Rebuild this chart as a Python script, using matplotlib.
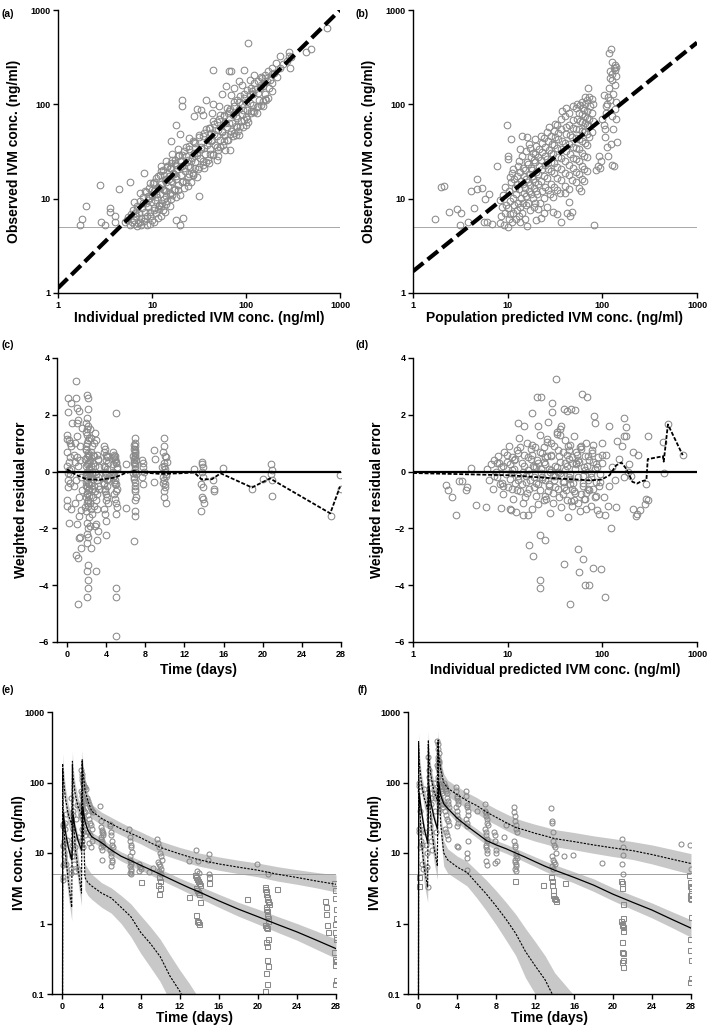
import numpy as np
import matplotlib
matplotlib.use("Agg")
import matplotlib.pyplot as plt
from matplotlib.ticker import FixedLocator, FixedFormatter, NullLocator

plt.rcParams['font.family'] = ['Liberation Sans', 'DejaVu Sans']
plt.rcParams['font.weight'] = 'bold'
plt.rcParams['axes.labelweight'] = 'bold'

nan = np.nan

# ---------------- panel (a): IPRED vs observed ----------------
a_ipred = [1.7, 1.8, 2.0, 2.8, 2.9, 3.2, 3.6, 3.6, 4.0, 4.0, 4.5, 5.8, 8.2, 21, 21, 18, 20, 20, 21.5, 17.8,
           31.8, 45, 66, 70, 96, 105, 122, 148, 165, 720, 488, 433, 294, 290, 290, 230, 211, 188, 180, 119,
           84, 67, 49, 36, 27, 24, 20, 15.6, 14, 13.6, 11.5, 10, 8.8, 7.6, 7.0, 6.1, 6.6, 5.4,
           5.2, 5.6, 5.9, 6.3, 6.4, 6.8, 6.9, 7.1, 7.3, 7.4, 7.7, 7.9, 8.1, 8.2, 8.4, 8.6, 8.7, 8.9, 9.1, 9.3,
           9.4, 9.6, 9.8, 10.1, 10.2, 10.4, 10.6, 10.8, 11.1, 11.3, 11.6, 11.9, 12.1, 12.3, 12.6, 12.9, 13.1, 13.4,
           13.7, 14.1, 14.4, 14.8, 15.1, 15.5, 15.9, 16.3, 16.7, 17.2, 17.6, 18.1, 18.6, 19.1, 19.6, 20.2, 20.8,
           21.4, 22.0, 22.7, 23.4, 24.1, 24.8, 25.6, 26.4, 27.2, 28.0, 28.9, 29.8, 30.7, 31.6, 32.6, 33.6, 34.7,
           35.8, 36.9, 38.1, 39.3, 40.5, 41.8, 43.1, 44.5, 45.9, 47.3, 48.8, 50.3, 51.9, 53.5, 55.2, 56.9, 58.7,
           60.5, 62.4, 64.4, 66.4, 68.5, 70.6, 72.8, 75.1, 77.5, 79.9, 82.4, 85.0, 87.7, 90.4, 93.3, 96.2, 99.2,
           102, 106, 110, 114, 119, 124, 130, 136, 143, 150, 158, 167, 177, 188, 200, 215, 230, 250, 270, 300,
           33, 28, 38, 30, 15.8, 60, 79, 35, 45, 55, 62, 75, 85, 30, 40, 50, 100, 130, 150,
           9.5, 10.5, 12.5, 13, 11, 12, 14, 16, 18, 22, 26, 12.4, 14.2, 16.5, 19, 23, 25, 44, 52, 70, 90, 110,
           65, 90, 115, 140, 160, 42, 24, 20, 18, 16, 14, 12, 10, 9, 8, 7, 6,
           6.5, 6.5, 7.5, 7.5, 8.5, 8.5, 9.5, 9.5, 10.5, 10.5, 11.5, 11.5, 12.5, 12.5, 13.5, 13.5, 14.5, 14.5,
           15.5, 15.5, 16.5, 16.5, 17.5, 17.5, 19, 19, 21, 21, 23, 23, 25, 25, 27, 27, 29, 29, 32, 32, 35, 35,
           38, 38, 41, 41, 45, 45, 49, 49, 53, 53, 58, 58, 63, 63, 68, 68, 74, 74, 80, 80, 87, 87, 95, 95,
           103, 103, 112, 112, 122, 122, 133, 133, 145, 145, 158, 158, 172, 172, 190, 190,
           9, 10, 11, 12, 13, 14, 15, 16, 17, 18, 20, 22, 24, 26, 28, 30, 33, 36, 39, 42, 46, 50, 55, 60, 66,
           72, 78, 85, 92, 100, 110, 120, 135, 150]
a_obs = [5.2, 6.1, 8.3, 13.8, 5.6, 5.2, 8.0, 7.3, 6.6, 5.6, 12.8, 15.0, 18.7, 111, 97, 60, 48, 5.2, 6.3, 5.9,
         10.7, 230, 225, 228, 232, 450, 205, 192, 111, 650, 390, 355, 245, 355, 323, 325, 272, 208, 181, 84,
         47, 33, 26, 21, 18, 13.5, 11, 8.3, 8.7, 7.3, 6.2, 6.0, 5.3, 5.3, 5.1, 5.7, 7.0, 6.0,
         5.6, 6.4, 5.2, 7.6, 5.9, 6.6, 8.4, 5.5, 7.1, 9.4, 6.2, 8.0, 10.3, 5.8, 7.3, 9.0, 11.8, 6.5, 8.1, 10.1,
         13.0, 7.2, 9.2, 11.0, 14.5, 7.9, 12.1, 9.6, 16.5, 10.4, 13.2, 8.3, 18.0, 11.3, 14.4, 9.1, 20.0, 12.3,
         15.6, 10.6, 21.5, 13.6, 17.2, 11.6, 24.0, 14.9, 18.8, 12.4, 26.0, 16.3, 20.5, 13.9, 29.0, 17.8, 22.4,
         15.5, 32.0, 19.6, 24.6, 16.8, 36.0, 21.8, 27.3, 18.5, 40.0, 24.2, 30.2, 20.5, 45.0, 27.0, 33.5, 23.0,
         50.0, 30.0, 37.2, 25.8, 56.0, 33.5, 41.5, 29.0, 62.0, 37.5, 46.0, 33.0, 70.0, 42.0, 51.5, 37.0, 78.0,
         47.0, 57.5, 41.5, 86.0, 52.5, 64.0, 46.5, 95.0, 59.0, 71.0, 52.0, 105, 66.0, 79.0, 58.0, 118, 74.0,
         88.0, 65.0, 130, 84.0, 98.0, 145, 94.0, 112, 160, 108, 128, 175, 148, 170, 215, 195, 240, 265, 290, 320,
         88, 75, 110, 89, 41, 33, 47, 78, 100, 130, 155, 150, 175, 17, 24, 28, 60, 80, 95,
         5.4, 5.6, 6.5, 7.6, 7.0, 8.5, 12, 10, 10.5, 13, 15, 22, 25, 30, 34, 28, 44, 80, 95, 125, 160, 180,
         80, 100, 140, 150, 190, 50, 22, 25, 23, 21, 16, 13, 12.5, 10.8, 9.0, 7.8, 6.8,
         9.2, 5.4, 11.5, 5.7, 12.0, 6.2, 14.5, 6.5, 15.0, 7.6, 17.5, 7.8, 19.5, 8.4, 18.0, 9.8, 22.0, 9.4,
         21.0, 11.2, 25.5, 10.9, 24.0, 12.6, 28.5, 12.4, 29.0, 15.2, 35.0, 15.1, 34.0, 18.3, 40.5, 18.0, 39.0,
         21.0, 47.0, 21.5, 46.0, 25.0, 55.0, 24.5, 56.0, 30.0, 66.0, 29.5, 65.0, 35.5, 78.0, 35.0, 76.0, 41.0,
         92.0, 42.0, 90.0, 49.0, 106, 50.0, 110, 58.0, 124, 58.5, 128, 68.0, 142, 70.0, 150, 80.0, 170, 82.0,
         176, 96.0, 196, 98.0, 205, 115, 228, 118, 245, 140,
         9.6, 10.8, 11.2, 12.9, 12.6, 14.9, 16.2, 15.4, 18.3, 17.6, 21.5, 21.0, 25.8, 25.0, 30.2, 29.0, 35.5,
         34.8, 42.0, 41.0, 48.5, 53.5, 52.0, 64.0, 63.0, 77.0, 75.5, 90.0, 88.0, 106, 104, 128, 132, 158]
a_line_x = [1, 1000]
a_line_y = [1.13, 1000]

# ---------------- panel (b): PRED vs observed ----------------
b_pred = [1.7, 2.0, 2.1, 2.4, 2.9, 3.1, 3.2, 3.8, 4.1, 4.4, 4.7, 4.8, 5.4, 5.8, 6.3, 5.6, 6.1, 6.9, 7.8, 9.8,
          10.2, 10.0, 10.8, 11.0, 13.5, 14.1, 16, 82, 85, 90, 95, 97, 92, 42, 46, 48, 40, 44, 30, 33, 37, 24,
          19.6, 21, 22.5, 20, 16, 13.5,
          105, 108, 110, 112, 115, 118, 120, 122, 124, 125, 126, 128, 130, 130, 132, 133, 135, 136, 138, 140,
          141, 142, 128, 125, 135, 120, 118, 115, 110, 107, 113, 100, 104, 139, 137, 121,
          8.2, 8.5, 8.8, 8.3, 9.1, 9.3, 9.6, 9.0, 9.4, 10.1, 10.3, 10.5, 10.2, 10.7, 10.4, 10.9, 10.6,
          11.2, 11.5, 11.8, 11.4, 11.9, 11.6, 11.3, 12.2, 12.5, 12.8, 12.3, 12.7, 12.4, 12.9,
          13.2, 13.6, 13.9, 13.3, 13.8, 13.5, 13.1, 14.3, 14.6, 14.9, 14.4, 14.8, 14.5, 14.2,
          15.2, 15.5, 15.8, 15.3, 15.7, 15.4, 15.9, 15.6, 16.3, 16.7, 16.4, 16.9, 16.5, 16.8,
          17.3, 17.7, 17.4, 17.9, 17.5, 17.8, 17.2, 18.3, 18.8, 18.5, 18.2, 18.9, 18.6,
          19.2, 19.7, 19.4, 19.9, 19.5, 19.3, 19.8, 19.6, 20.5, 21.0, 20.7, 21.3, 20.9, 21.5,
          22.2, 22.8, 22.5, 23.1, 22.3, 22.9, 23.3, 22.6, 24.1, 24.7, 24.3, 25.0, 24.5, 24.9, 24.2,
          26.0, 26.5, 26.2, 26.8, 26.3, 27.0, 26.6, 26.1, 27.2, 28.2, 28.7, 28.4, 29.0, 28.5, 29.3, 28.8,
          30.2, 30.8, 30.5, 31.2, 30.4, 31.0, 31.5, 30.7, 31.3, 33.0, 33.6, 33.3, 34.0, 33.2, 33.8, 34.2, 33.5,
          36.1, 36.7, 36.3, 37.0, 36.5, 37.2, 36.8, 36.2, 37.4, 40.2, 40.8, 40.4, 41.1, 40.6, 41.3, 40.9, 40.3, 41.5,
          44.1, 44.7, 44.4, 45.1, 44.6, 45.3, 44.9, 44.3, 48.2, 48.8, 48.5, 49.2, 48.4, 49.0, 49.5, 48.7,
          52.1, 52.8, 52.4, 53.2, 52.6, 53.0, 53.5, 52.3, 53.7, 56.2, 56.9, 56.5, 57.3, 56.7, 57.1, 57.6, 56.4, 57.8,
          60.2, 60.9, 60.5, 61.3, 60.7, 61.1, 61.6, 60.4, 61.8, 60.8, 64.1, 64.8, 64.4, 65.2, 64.6, 65.0, 65.5, 64.3,
          65.7, 64.9, 68.2, 68.9, 68.5, 69.2, 68.7, 69.0, 69.5, 68.4, 69.8, 72.3, 72.9, 72.5, 73.2, 72.7,
          78.1, 78.8, 78.4, 79.1, 78.6]
b_obs = [6.1, 13.2, 13.6, 7.3, 7.8, 5.2, 7.0, 5.6, 12.0, 8.0, 16.2, 12.7, 13.1, 9.9, 11.2, 5.7, 5.6, 5.4, 22.3, 60,
         28, 26.5, 43, 18.6, 34, 46, 45, 5.2, 20, 22, 21, 25, 28, 7.0, 6.6, 7.3, 11.6, 9.3, 7.3, 6.9, 5.6, 7.0,
         9.1, 7.7, 6.2, 5.9, 5.1, 5.7,
         60, 45, 80, 100, 28, 350, 110, 38, 388, 180, 75, 210, 55, 130, 240, 22, 90, 160, 250, 70,
         200, 40, 22.5, 280, 230, 190, 150, 120, 95, 55, 35, 70, 125, 105, 260, 225,
         5.5, 6.6, 8.1, 9.6, 5.2, 7.1, 8.6, 11.0, 13.2, 5.0, 6.1, 6.9, 8.0, 9.5, 12.1, 15.2, 17.0,
         5.6, 7.1, 8.6, 10.1, 13.1, 16.2, 20.5, 6.1, 7.6, 9.1, 11.2, 14.2, 17.3, 22.4,
         6.6, 8.1, 10.2, 12.6, 15.3, 19.2, 25.3, 7.1, 9.1, 11.6, 14.2, 17.2, 21.3, 28.3,
         6.1, 8.6, 10.6, 13.1, 16.1, 20.2, 24.2, 32.3, 9.1, 12.1, 15.1, 18.2, 23.3, 38.4,
         7.6, 11.1, 14.1, 17.2, 21.3, 27.4, 34.5, 10.1, 13.1, 16.2, 20.3, 25.4, 30.5,
         8.1, 12.1, 15.2, 19.3, 24.4, 29.5, 36.6, 42.7, 11.1, 14.2, 18.3, 22.4, 27.5, 33.6,
         9.1, 12.2, 15.3, 20.4, 25.5, 31.6, 38.7, 45.8, 10.2, 13.3, 17.4, 22.5, 28.6, 35.7, 43.8,
         8.2, 12.3, 16.4, 20.5, 26.6, 32.7, 40.8, 50.9, 58.0, 11.3, 14.4, 19.5, 24.6, 30.7, 37.8, 45.9,
         10.3, 13.4, 18.5, 23.6, 29.7, 36.8, 44.9, 52.0, 62.1, 12.4, 16.5, 21.6, 27.7, 34.8, 42.9, 50.0, 60.1,
         11.5, 15.6, 20.7, 26.8, 33.9, 41.0, 55.1, 70.2, 85.3, 13.6, 18.7, 24.8, 31.9, 39.0, 48.1, 58.2, 75.3, 90.4,
         12.7, 17.8, 22.9, 30.0, 38.1, 47.2, 60.3, 80.4, 15.8, 20.9, 27.0, 35.1, 45.2, 56.3, 68.4, 95.5,
         14.9, 19.0, 26.1, 34.2, 44.3, 55.4, 70.5, 90.6, 100, 13.1, 18.2, 25.3, 33.4, 42.5, 54.6, 66.7, 80.8, 98.0,
         12.2, 16.3, 22.4, 30.5, 40.6, 52.7, 64.8, 78.9, 92.0, 105, 15.4, 20.5, 28.6, 38.7, 50.8, 62.9, 75.0, 88.1,
         100, 120, 19.6, 27.7, 36.8, 48.9, 60.0, 72.1, 85.2, 110, 150, 45.3, 58.4, 70.5, 95.6, 120,
         50.7, 65.8, 80.9, 100, 115]
b_line_x = [1, 1000]
b_line_y = [1.7, 451]

# ---------------- panel (c): time vs WRES ----------------
c_time = [0.0, 0.05, 0.1, 0.15, 0.2, 0.05, 0.1, 0.0, 0.05, 0.2, 0.1, 0.3, 0.25, 0.35, 0.4, 0.3, 0.45, 0.15, 0.4, 0.5,
          0.35, 0.2, 0.05, 0.45,
          0.7, 0.8, 0.85, 0.9, 0.95, 0.9, 1.0, 1.05, 1.1, 1.0, 1.1, 1.15, 1.2, 1.2, 1.25, 1.3, 1.3, 1.35, 1.4, 1.45,
          1.5, 1.0, 0.95, 1.15, 0.75, 1.4, 1.05, 0.8, 1.25, 1.5,
          2.05, 2.15, 2.15, 2.05, 1.95, 2.1, 2.0, 1.9, 2.2, 2.05, 1.95, 2.15, 2.0, 2.1, 1.9, 2.2, 2.05, 1.95, 2.15, 2.0,
          2.1, 1.9, 2.2, 2.05, 1.95, 2.15, 2.0, 2.1, 1.9, 2.2, 2.05, 2.15, 2.0, 2.1, 2.05, 2.15, 2.05, 2.15, 2.15, 2.05,
          2.35, 2.45, 2.55, 2.65, 2.4, 2.5, 2.6, 2.35, 2.45, 2.55, 2.65, 2.4, 2.5, 2.6, 2.35, 2.5, 2.45, 2.55,
          2.85, 2.95, 3.05, 3.15, 2.9, 3.0, 3.1, 3.2, 2.85, 2.95, 3.05, 2.83, 3.0, 3.17, 3.1, 3.0, 2.9, 3.1,
          3.75, 3.85, 3.95, 4.05, 4.15, 3.8, 3.9, 4.0, 4.1, 3.75, 3.85, 3.95, 4.05, 4.15, 3.8, 3.9, 4.0, 3.96, 4.1,
          3.85, 4.05,
          5.0, 4.7, 4.8, 4.9, 5.0, 5.1, 4.75, 4.85, 4.95, 5.05, 5.15, 4.8, 4.9, 5.0, 5.1, 5.05, 5.0, 5.0, 5.0, 4.95,
          4.85,
          6.0, 6.0,
          6.9, 6.95, 7.0, 6.85, 6.9, 6.95, 7.0, 7.05, 6.85, 6.9, 6.95, 7.0, 7.05, 6.85, 6.9, 6.95, 7.0, 7.05, 6.9,
          6.95, 6.9, 6.8, 7.0, 6.85,
          7.7, 7.8, 7.75, 7.85, 7.7, 7.8, 8.9, 8.9, 9.0,
          9.9, 9.95, 10.0, 10.1, 9.9, 9.95, 10.0, 10.05, 10.1, 9.85, 9.95, 10.0, 10.05, 9.9, 9.95, 10.1,
          13.0, 13.75, 13.8, 13.9, 13.75, 13.85, 13.7, 13.9, 13.75, 13.85, 14.05, 13.7,
          14.9, 15.0, 15.05, 15.9, 18.9, 20.0, 20.85, 20.9, 20.85, 20.95, 21.0, 27.0, 27.9, 28.0,
          1.85, 1.9, 1.95, 2.0, 2.05, 2.1, 2.15, 2.2, 2.25, 2.3, 1.85, 1.9, 1.95, 2.0, 2.05, 2.1, 2.15, 2.2,
          2.25, 2.3, 2.7, 2.75, 2.8, 2.7, 2.75, 2.8, 3.2, 3.25, 3.2, 3.25, 3.8, 3.9, 4.0, 4.1, 3.8, 3.9, 4.0,
          4.1, 4.7, 4.8, 4.9, 5.0, 5.1, 4.75, 4.85, 4.95, 5.05, 6.75, 6.8, 6.85, 6.9, 6.95, 7.0, 6.75, 6.8,
          9.75, 9.8, 9.85, 10.15, 10.2]
c_wres = [1.3, 0.7, 2.1, 2.6, 1.1, 0.2, -0.3, -1.0, -1.2, -1.8, -0.55, 0.5, 0.35, 1.0, 2.4, -0.1, 0.9, -0.05, -1.3, 1.7,
          -0.4, 0.05, 1.15, 0.1,
          0.6, -1.1, 1.0, -2.95, 3.2, 2.6, 1.7, 2.25, 1.8, -1.85, -4.65, -3.05, 2.15, -2.35, -0.9, -2.3, 0.9, 0.4,
          -1.35, -2.7, 1.55, 0.5, -0.3, 0.2, -0.5, -0.2, 1.25, 0.35, -1.55, -0.65,
          2.7, 2.6, 2.2, 1.9, 1.7, 1.6, 1.5, 1.4, 1.2, 1.0, 0.8, 0.6, 0.5, 0.3, 0.2, 0.1, 0.0, -0.1, -0.2, -0.3,
          -0.4, -0.5, -0.6, -0.8, -0.9, -1.0, -1.1, -1.2, -1.4, -1.6, -1.8, -2.0, -2.2, -2.3, -2.5, -3.3, -3.5,
          -3.8, -4.1, -4.4,
          1.5, 1.2, 0.9, 0.6, 0.4, 0.2, 0.0, -0.2, -0.4, -0.6, -0.9, -1.1, -1.3, -1.5, -1.9, -2.7, 0.7, -0.1,
          1.35, 1.1, 0.6, 0.4, 0.2, -0.1, -0.3, -0.5, -0.7, -1.0, -1.3, -1.9, -1.85, -2.1, -2.4, -3.5, 0.0, -0.8,
          0.9, 0.8, 0.6, 0.5, 0.3, 0.2, 0.0, -0.1, -0.3, -0.4, -0.6, -0.8, -0.9, -1.1, -1.3, -1.5, -1.75, -2.25, 0.1,
          -0.2, -0.5,
          2.05, 0.7, 0.6, 0.45, 0.3, 0.15, 0.0, -0.15, -0.3, -0.45, -0.6, -0.8, -0.95, -1.1, -1.25, -1.5, -4.1,
          -4.4, -5.8, 0.55, -0.05,
          0.28, -1.27,
          1.2, 1.0, 0.9, 0.8, 0.7, 0.6, 0.5, 0.4, 0.3, 0.2, 0.1, 0.0, -0.1, -0.2, -0.35, -0.5, -0.7, -0.9, -1.0,
          -1.4, -1.55, -2.45, 0.65, 0.35,
          0.4, 0.3, 0.15, 0.0, -0.2, -0.45, 0.75, -0.36, 0.45,
          1.2, 0.9, 0.55, 0.5, 0.3, 0.2, 0.1, 0.0, -0.1, -0.2, -0.3, -0.45, -0.55, -0.7, -0.9, -1.1,
          0.08, 0.35, 0.25, 0.15, 0.0, -0.2, -0.45, -0.55, -0.9, -0.95, -1.1, -1.4,
          -0.3, -0.6, -0.7, 0.12, -0.6, -0.25, 0.28, 0.05, -0.1, -0.3, -0.85, -1.55, -0.12, -0.62,
          0.45, -0.35, 0.75, -0.75, 0.25, -0.65, 1.1, -0.05, 0.55, -0.45, -1.25, 0.9, -0.15, 1.3, -0.55, 0.65,
          -1.05, 0.35, -0.85, 0.05, 0.3, -0.5, 1.0, -0.25, 0.55, -1.2, 0.45, -0.6, -0.2, 0.15, 0.7, -0.7, 0.4,
          -0.25, -0.45, 0.15, -1.0, 0.55, 0.25, -0.35, 0.4, -0.7, 0.1, -0.2, 0.5, -0.45, 0.35, 0.55, -0.25,
          0.95, -0.6, 0.25, 0.75, -0.05, 0.45, 0.15, -0.4, 0.7, -0.15, 0.35]
c_trend_t = [0, 0.96, 2.0, 3.35, 4.9, 5.9, 6.8, 8.1, 9.5, 11.5, 13.0, 13.75, 14.8, 15.7, 18.9, 20.75, 26.9, 27.9]
c_trend_w = [0.08, -0.12, -0.27, -0.29, -0.21, -0.06, 0.02, -0.04, -0.08, -0.06, -0.03, -0.27, -0.27, -0.06,
             -0.56, -0.24, -1.47, -0.53]

# ---------------- panel (d): IPRED vs WRES ----------------
d_ipred = [32.7, 20.4, 22.4, 29.6, 29.6, 61.6, 69.4, 39.4, 42.7, 47, 51, 18, 12.8, 26.7, 15, 20.8, 36, 33, 37,
           81.3, 83, 119, 168, 179, 302, 179, 143, 437, 445, 493, 706, 286, 281, 210, 228, 124, 108, 107, 45.9,
           21.8, 21.8, 65, 72, 39.4, 18.5, 16.8, 56.4, 80, 97.8, 55.8, 62.6, 21.8, 25, 2.87, 2.25, 2.35, 2.58,
           3.06, 3.32, 3.66, 3.72, 4.1, 4.67, 5.86, 8.6, 10.5, 10.9, 12.3, 14.5, 16.4,
           6.0, 6.3, 6.6, 7.0, 7.2, 7.5, 7.8, 8.0, 8.3, 8.6, 8.9, 9.2, 9.5, 9.8, 10.0, 10.3, 10.6, 11.0, 11.3,
           11.6, 12.0, 12.4, 12.8, 13.2, 13.6, 14.0, 14.5, 15.0, 15.5, 16.0, 16.5, 17.0, 17.5, 18.0, 18.5, 19.0,
           19.5, 20.0, 20.5, 21.0, 22.0, 22.5, 23.0, 24.0, 24.5, 25.0, 26.0, 26.5, 27.0, 28.0, 29.0, 30.0, 31.0,
           32.0, 33.0, 34.0, 35.0, 36.0, 37.0, 38.0, 39.0, 40.0, 41.0, 42.0, 43.0, 44.0, 45.0, 46.0, 47.0, 48.0,
           49.0, 50.0, 52.0, 54.0, 56.0, 58.0, 60.0, 62.0, 64.0, 66.0, 68.0, 70.0, 72.0, 75.0, 78.0, 80.0, 83.0,
           86.0, 90.0, 94.0, 98.0, 105, 110, 118, 125, 135, 150, 170, 190,
           9, 11, 13, 15, 17, 19, 21, 23, 25, 27, 29, 31, 33, 36, 40, 44, 48, 52, 57, 63, 69, 76, 85, 95,
           12, 14, 18, 22, 26, 30, 34, 38, 42, 46, 50, 55, 60, 65, 72, 80, 88, 7.7, 8.8, 10.5, 16, 24, 37, 53,
           67, 92, 100, 115, 140, 160, 200, 230, 240, 250, 290, 300, 185, 210, 170,
           7.2, 8.1, 9.0, 9.9, 10.8, 11.7, 12.6, 13.5, 14.4, 15.3, 16.2, 17.1, 18.0, 19.0, 20.0, 21.0, 22.0,
           23.0, 24.0, 25.0, 26.0, 27.0, 28.0, 29.0, 30.0, 32.0, 34.0, 36.0, 38.0, 40.0, 42.0, 44.0, 46.0, 48.0,
           50.0, 53.0, 56.0, 59.0, 62.0, 65.0, 68.0, 71.0, 75.0, 79.0, 83.0, 88.0, 93.0, 99.0, 11.2, 13.0, 15.8,
           17.8, 19.8, 22.6, 25.5, 28.5, 31.5, 35.0, 39.0, 43.0, 47.5, 52.5, 58.0, 64.0, 70.0, 77.0, 85.0]
d_wres = [3.25, 2.61, 2.61, 2.4, 2.1, 2.72, 2.61, 2.22, 2.14, 2.19, 2.16, 2.07, 1.72, 1.75, 1.6, 1.61, 1.49, 1.34,
          1.61, 1.95, 1.7, 1.6, 1.89, 1.58, 1.26, 1.26, 1.07, 1.05, -0.04, 1.66, 0.58, -0.98, -1.15, -1.33, -1.56,
          -2.0, -1.52, -4.42, -4.66, -3.8, -4.1, -4.01, -3.98, -3.27, -2.98, -2.58, -3.52, -3.4, -3.42, -2.72,
          -3.07, -2.22, -2.42, -1.52, -0.48, -0.64, -0.89, -0.33, -0.33, -0.66, -0.54, 0.13, -1.16, -1.26, -1.28,
          -1.33, -1.36, -1.42, -1.52, -1.52,
          0.1, -0.3, 0.25, -0.6, 0.4, 0.0, -0.2, 0.55, -0.45, 0.15, -0.8, 0.7, -0.1, 0.35, -0.55, 0.9, -0.25, 0.5,
          -0.95, 0.1, -0.4, 0.75, -0.15, 1.2, -0.7, 0.3, -1.1, 0.6, -0.35, 1.0, 0.05, -0.6, 0.45, -1.3, 0.2, -0.2,
          0.85, -0.85, 0.4, -0.45, 1.3, -0.05, 0.65, -1.0, 0.25, -0.3, 1.05, -0.7, 0.1, -1.45, 0.55, -0.15, 0.9,
          -0.55, 1.4, 0.0, -0.9, 0.35, -1.25, 0.7, -0.35, 1.1, -0.65, 0.2, -1.6, 0.45, -0.1, 0.95, -1.05, 0.3,
          -0.4, 1.25, -0.75, 0.6, -0.2, -1.4, 0.8, -0.5, 0.15, -0.95, 1.0, -0.3, 0.4, -1.2, 0.65, -0.6, 0.1,
          -0.85, 0.5, -0.35, 0.3, -0.9, 0.6, -0.5, 0.15, -0.3, 0.45, -0.2, 0.25,
          0.2, 0.05, -0.3, 0.2, -0.1, 0.15, 0.3, -0.25, 0.5, -0.5, 0.05, -0.3, 0.15, -0.05, 0.3, -0.2, -0.6, 0.1,
          0.35, -0.15, 0.2, -0.05, 0.25, -0.1,
          0.45, -0.45, 0.6, -0.65, 0.55, -0.75, 0.75, -0.8, 0.6, -0.45, -1.0, 0.4, -0.8, 0.55, -0.65, 0.95,
          -1.35, 0.3, -0.4, 0.25, -0.75, 0.85, -0.15, 0.7, -1.3, -1.5, 1.0, -1.2, -1.25, 0.9, -0.15, -1.5, 0.6,
          -1.35, -0.45, -1.0, 0.0, 0.7, 1.25,
          -0.15, 0.3, -0.5, 0.6, -0.05, 0.4, -0.65, 0.85, 0.0, -0.9, 0.5, -0.3, 0.95, -0.55, 0.15, -1.15, 0.7,
          -0.2, 0.35, -0.85, 1.15, -0.45, 0.0, 0.6, -1.1, 0.2, -0.6, 1.3, -0.35, 0.05, -1.0, 0.75, -0.25, 0.5,
          -0.7, 0.3, -1.1, 0.9, -0.4, 0.05, -0.75, 0.55, -0.2, 0.35, -0.9, 0.15, -0.5, 0.6, -0.6, 0.65, -0.15,
          0.8, -0.4, 0.1, -0.95, 1.0, -0.15, 0.55, -0.55, 0.9, -1.2, 0.25, 0.85, -0.95, -0.6, 0.75, -0.35]
d_trend_x = [1, 10.5, 25.6, 49, 73, 98, 119, 140, 159, 179, 208, 233, 258, 292, 302, 437, 445, 493, 706]
d_trend_w = [-0.05, -0.13, -0.22, -0.27, -0.31, -0.28, -0.13, 0.22, 0.32, 0.1, -0.36, -0.42, -0.34, -0.3,
             0.44, 0.54, 0.35, 1.66, 0.58]

# ---------------- panel (e): VPC ----------------
vpc_t = [0, 0.02, 0.08, 0.3, 0.6, 0.95, 1.02, 1.08, 1.3, 1.6, 1.95, 2.02, 2.08, 2.3, 2.6, 3, 4, 5, 6, 7, 8, 9,
         10, 11, 12, 13, 14, 16, 18, 20, 22, 24, 26, 28]
e_p95 = [0.001, 185, 120, 60, 35, 25, 200, 120, 70, 45, 35, 210, 150, 80, 55, 39, 31, 26, 22, 19, 16.5, 14, 12,
         10.8, 9.7, 8.8, 8.0, 7.0, 6.3, 5.7, 5.0, 4.5, 4.0, 3.6]
e_p95_hi = [0.001, 260, 170, 85, 48, 34, 280, 170, 95, 60, 46, 290, 200, 105, 70, 49, 38, 32, 27, 23, 20, 17.2,
            14.8, 13.3, 12, 11, 10, 8.8, 7.9, 7.2, 6.4, 5.8, 5.3, 4.9]
e_p95_lo = [0.001, 130, 85, 42, 25, 18, 145, 85, 50, 33, 25, 150, 110, 60, 42, 31, 25, 21, 18, 15.5, 13.5,
            11.4, 9.8, 8.8, 7.9, 7.1, 6.5, 5.7, 5.1, 4.6, 4.0, 3.6, 3.2, 2.8]
e_med = [0.001, 15, 37, 20, 12, 8, 12, 35, 22, 15, 11, 15, 45, 28, 21, 17, 14, 11, 9, 7.8, 6.7, 5.8, 5.0, 4.3,
         3.7, 3.2, 2.8, 2.1, 1.6, 1.25, 0.97, 0.76, 0.58, 0.44]
e_med_hi = [0.001, 18, 43, 23.5, 14, 9.4, 14.5, 41, 26, 17.5, 13, 18, 52, 32.5, 24.5, 19.7, 16.2, 12.7, 10.4,
            9.0, 7.8, 6.8, 5.9, 5.1, 4.4, 3.85, 3.4, 2.6, 2.0, 1.6, 1.26, 1.0, 0.78, 0.6]
e_med_lo = [0.001, 12, 31, 17, 10, 6.7, 10, 29, 18.5, 12.5, 9.2, 12.5, 38, 24, 18, 14.5, 12, 9.4, 7.7, 6.6,
            5.7, 4.9, 4.2, 3.6, 3.1, 2.65, 2.3, 1.7, 1.27, 0.98, 0.75, 0.58, 0.43, 0.32]
e_p5 = [0.001, 150, 35, 10, 4, 1.7, 180, 40, 12, 6, 2.7, 200, 45, 4.5, 3.8, 3.4, 2.7, 2.3, 1.7, 1.25, 0.75,
        0.52, 0.34, 0.18, 0.11, 0.06, nan, nan, nan, nan, nan, nan, nan, nan]
e_p5_hi = [0.001, 220, 55, 16, 6.5, 2.6, 260, 60, 18, 9, 4.2, 280, 65, 7, 6, 5.0, 3.8, 3.2, 2.5, 1.9, 1.3, 0.9,
           0.6, 0.36, 0.22, 0.14, 0.085, 0.03, nan, nan, nan, nan, nan, nan]
e_p5_lo = [0.001, 100, 22, 6, 2.4, 1.1, 120, 26, 8, 3.8, 1.8, 130, 30, 3.0, 2.5, 2.2, 1.7, 1.4, 1.0, 0.65,
           0.38, 0.24, 0.15, 0.08, 0.05, 0.03, 0.02, 0.01, nan, nan, nan, nan, nan, nan]

e_circ_t = [0.05, 0.08, 0.1, 0.15, 0.05, 0.1, 0.2, 0.25, 0.1, 0.3, 0.4, 0.15, 0.35, 0.5, 0.02, 0.2,
            0.85, 0.9, 0.95, 1.0, 0.95, 0.9, 1.05, 1.1, 1.05, 1.1, 1.15, 1.2, 1.3, 1.5, 1.55, 1.6, 1.4, 1.25,
            1.85, 1.95, 2.0, 2.05, 2.1, 2.15, 2.2, 2.3, 2.4, 1.9, 2.0, 2.05, 2.1, 2.15, 2.25, 2.35, 1.95, 2.0,
            2.05, 2.1, 2.2, 2.3, 1.9, 2.0, 2.1, 2.2, 2.4, 2.05, 2.15, 2.3, 2.0, 2.1,
            2.55, 2.6, 2.7, 2.8, 2.9, 3.0, 3.1, 2.65, 2.75, 2.85, 2.95, 3.05, 2.6, 2.8, 3.0, 2.7, 2.9,
            3.85, 3.9, 3.95, 4.0, 4.05, 4.1, 4.15, 3.9, 3.95, 4.0, 4.05, 4.1, 3.95, 4.0, 4.05,
            4.85, 4.9, 4.95, 5.0, 5.05, 5.1, 5.15, 4.9, 4.95, 5.0, 5.05, 5.1, 5.0,
            6.85, 6.9, 6.95, 7.0, 7.05, 7.1, 6.9, 6.95, 7.0, 7.05, 6.9, 7.0, 7.05, 6.95, 7.0,
            7.8, 7.9, 8.0, 7.85, 8.9, 9.3,
            9.7, 9.8, 9.9, 10.0, 10.1, 10.2, 9.8, 9.9, 10.0, 10.1, 9.9, 10.0, 10.05,
            13.0, 13.7, 13.9, 13.8, 14.0, 15.0, 14.9, 15.0, 19.9, 21.0]
e_circ_c = [4.2, 4.6, 6.8, 7.3, 12.5, 13, 15, 22, 24, 27, 36, 9, 7, 15.5, 26, 10.5,
            5.2, 6, 9, 10.5, 13, 60, 22, 35, 40, 16, 9, 7, 5.5, 48, 17, 6, 30, 12,
            150, 130, 120, 110, 100, 95, 90, 85, 80, 75, 70, 65, 60, 57, 55, 52, 50, 48,
            45, 42, 40, 38, 35, 33, 30, 28, 25, 22, 20, 18, 15, 12,
            60, 55, 50, 45, 42, 40, 38, 35, 30, 27, 25, 22, 20, 18, 15, 14, 12,
            47, 28, 23, 21, 20, 19, 18, 17, 16, 15, 14, 13, 12, 11, 8,
            26, 24, 20, 18, 15, 13, 12, 11, 10, 9, 8, 7.5, 6.5,
            22, 17, 15, 13, 12, 10.5, 9, 8, 7.5, 7, 6.5, 6, 5.5, 5.2, 5.0,
            7, 6.3, 6, 5.5, 5.3, 6.2,
            16, 14, 12, 10, 9, 8, 7.5, 7, 6.5, 6, 5.5, 5.2, 5.0,
            7.8, 11, 7.7, 5.5, 5.2, 9.8, 8.0, 5.0, 7.0, 5.1]
e_sq_t = [8.0, 9.9, 10.0, 9.8, 10.0, 9.9, 13.0,
          13.6, 13.7, 13.8, 13.9, 14.0, 14.1, 13.65, 13.75, 13.85, 13.95, 14.05, 13.7, 13.8, 13.9, 14.0,
          15.0, 15.0, 18.9,
          20.7, 20.75, 20.8, 20.85, 20.9, 20.95, 21.0, 21.05, 21.1, 20.8, 20.85, 20.9, 20.95, 21.0, 21.05,
          20.75, 20.8, 20.9, 21.0, 20.85, 20.9, 20.95, 21.0, 20.8, 20.9, 20.7,
          22.0, 26.9, 27.0, 26.95, 27.1, 27.2,
          27.8, 27.85, 27.9, 27.95, 28.0, 27.85, 27.9, 27.95, 28.0, 27.8, 27.9, 28.0, 27.85, 27.95, 27.9]
e_sq_c = [3.9, 4.5, 4.0, 3.5, 3.2, 2.6, 2.4,
          4.8, 4.5, 4.3, 4.0, 3.8, 3.5, 3.2, 3.0, 2.8, 2.6, 2.0, 1.3, 1.1, 1.05, 1.0,
          3.7, 4.6, 2.25,
          3.3, 3.1, 2.9, 2.6, 2.4, 2.2, 2.1, 2.0, 1.9, 1.7, 1.6, 1.5, 1.3, 1.2, 1.1,
          0.95, 0.9, 0.85, 0.6, 0.55, 0.48, 0.3, 0.25, 0.2, 0.14, 0.11,
          3.1, 2.1, 1.7, 1.35, 0.95, 0.75,
          3.7, 3.0, 2.3, 1.6, 1.2, 1.0, 0.75, 0.65, 0.6, 0.4, 0.31, 0.29, 0.26, 0.16, 0.14]

# ---------------- panel (f): VPC ----------------
f_p95 = [0.001, 380, 200, 100, 60, 42, 400, 220, 120, 75, 55, 400, 250, 150, 100, 83, 67, 55, 47, 38, 32, 27,
         23, 21, 19, 17.5, 16, 14.5, 13, 11.8, 10.8, 9.5, 8.2, 7.1]
f_p95_hi = [0.001, 520, 270, 135, 80, 56, 540, 300, 160, 100, 74, 540, 330, 200, 133, 108, 87, 72, 61, 50,
            42, 36, 31, 28, 25.5, 23.5, 21.5, 19.5, 17.5, 16, 14.5, 13, 11.3, 9.8]
f_p95_lo = [0.001, 280, 150, 75, 45, 31, 300, 165, 90, 56, 41, 300, 190, 115, 77, 64, 52, 43, 36.5, 29.5,
            25, 21, 18, 16.3, 14.7, 13.5, 12.3, 11.1, 9.9, 8.9, 8.1, 7.0, 5.9, 5.0]
f_med = [0.001, 30, 70, 40, 22, 14, 35, 90, 50, 32, 22, 45, 100, 65, 50, 43, 31, 24, 19, 15, 13, 11.5, 10, 8.7,
         7.5, 6.5, 5.7, 4.5, 3.5, 2.6, 2.0, 1.55, 1.15, 0.86]
f_med_hi = [0.001, 35, 81, 46, 25, 16, 40, 104, 58, 37, 25.5, 52, 115, 75, 57, 49, 35.5, 27.5, 22, 17.3,
            15, 13.3, 11.6, 10.1, 8.8, 7.7, 6.8, 5.4, 4.3, 3.2, 2.5, 1.95, 1.48, 1.13]
f_med_lo = [0.001, 25, 60, 34, 19, 12, 30, 77, 43, 27.5, 19, 39, 87, 56, 44, 37.5, 27, 21, 16.5, 13, 11.2,
            9.9, 8.6, 7.4, 6.4, 5.5, 4.8, 3.75, 2.85, 2.1, 1.58, 1.2, 0.88, 0.64]
f_p5 = [0.001, 300, 60, 15, 6, 3.3, 350, 80, 25, 12, 6.5, 380, 90, 25, 10, 8, 6.3, 5.3, 3.7, 2.6, 1.75, 1.15,
        0.72, 0.4, 0.25, 0.16, 0.085, 0.04, nan, nan, nan, nan, nan, nan]
f_p5_hi = [0.001, 450, 90, 24, 9.5, 5, 500, 120, 38, 18, 9.5, 520, 130, 38, 15, 11.5, 9, 7.6, 5.6, 4.1, 2.9,
           2.0, 1.35, 0.85, 0.55, 0.35, 0.2, 0.095, 0.04, nan, nan, nan, nan, nan]
f_p5_lo = [0.001, 200, 40, 9, 3.6, 2.0, 240, 52, 16, 7.5, 4.2, 260, 60, 16, 6.5, 5.2, 4.2, 3.4, 2.3, 1.5,
           0.95, 0.58, 0.35, 0.17, 0.1, 0.06, 0.035, 0.01, nan, nan, nan, nan, nan, nan]

f_circ_t = [0.05, 0.1, 0.15, 0.2, 0.3, 0.05, 0.1, 0.25, 0.35, 0.15, 0.4, 0.45,
            0.55, 0.7, 0.8, 0.85, 0.9, 0.95,
            1.0, 1.05, 1.1, 1.15, 1.2, 1.25, 1.3, 1.0, 1.05, 1.1, 1.15, 1.2, 1.25, 1.35,
            1.55, 1.6, 1.7, 1.75, 1.8,
            1.95, 2.0, 2.05, 2.1, 2.0, 2.05, 2.1, 2.15, 1.95, 2.0, 2.05, 2.1, 2.15, 2.2, 2.0, 2.05, 2.1, 2.15,
            2.2, 2.25, 2.3, 2.35, 2.0, 2.1, 2.2, 2.3, 2.4, 2.5, 2.15, 2.25, 2.35, 2.45, 2.55,
            2.65, 2.7, 2.75, 2.8, 2.85, 2.9, 2.95, 3.0, 3.05, 3.1, 2.7, 2.8, 2.9, 3.0, 3.1, 2.75, 2.85, 2.95, 3.05,
            3.85, 3.9, 3.95, 4.0, 4.05, 4.1, 3.9, 3.95, 4.0, 4.05, 4.1, 4.0, 3.95, 4.05,
            4.85, 4.9, 4.95, 5.0, 5.05, 5.1, 4.9, 4.95, 5.0, 5.05, 5.0, 4.95, 5.0, 6.0,
            6.8, 6.85, 6.9, 6.95, 7.0, 7.05, 7.1, 6.85, 6.9, 6.95, 7.0, 7.05, 6.9, 6.95, 7.0, 7.05, 6.9, 7.0,
            7.8, 7.85, 7.9, 7.95, 8.0, 8.05, 7.9, 9.0, 8.8,
            9.8, 9.85, 9.9, 9.95, 10.0, 10.05, 10.1, 9.85, 9.9, 9.95, 10.0, 10.05, 10.1, 9.9, 9.95, 10.0, 10.05,
            9.9, 10.0,
            13.6, 13.7, 13.75, 13.8, 13.85, 13.9, 14.0, 14.1, 13.7, 13.8, 13.9, 14.0, 13.75, 13.85,
            15.0, 15.9, 18.9, 20.9, 21.0, 21.05, 20.9, 21.0, 27.0, 27.9, 28.05]
f_circ_c = [100, 90, 75, 40, 25, 22, 20, 15, 13, 12, 7, 6,
            80, 20, 13, 10, 6.3, 3.3,
            230, 150, 120, 100, 70, 60, 50, 45, 35, 30, 25, 20, 15, 11,
            100, 80, 60, 40, 20,
            390, 350, 300, 260, 230, 210, 200, 190, 180, 170, 160, 150, 140, 130, 120, 110, 100, 95,
            90, 85, 80, 75, 70, 65, 60, 55, 50, 45, 40, 110, 90, 70, 50,
            100, 90, 85, 80, 75, 70, 60, 55, 50, 45, 40, 35, 30, 28, 25, 22, 20, 18, 16,
            85, 75, 65, 60, 55, 50, 45, 40, 35, 30, 27, 24, 12.5, 12,
            75, 65, 48, 45, 40, 35, 30, 27, 24, 15, 10, 8.5, 5.8, 40,
            50, 40, 37, 34, 30, 27, 25, 22, 20, 18, 16, 15, 13, 12, 11, 10, 7.8, 6.8,
            20, 18, 15, 11, 10, 7.8, 7.3, 25, 17,
            45, 38, 33, 28, 25, 22, 20, 15, 13, 12, 10, 9, 8.5, 8, 7.5, 7, 6.5,
            6, 5.5,
            43, 28, 27, 20, 15, 13, 12, 10, 9, 8, 7.5, 7, 6.5, 6,
            9.2, 9.5, 7.2, 16, 12, 9.5, 7, 5.1, 13.5, 13, 6.0]
f_sq_t = [0.05, 0.1, 9.95, 12.8,
          13.65, 13.7, 13.75, 13.8, 13.85, 13.9, 14.0, 14.1, 15.1,
          20.85, 20.9, 20.95, 21.0, 21.05, 20.85, 20.9, 20.95, 21.0, 21.05, 20.9, 20.95, 21.0, 21.05, 20.9,
          21.0,
          27.8, 27.85, 27.9, 27.95, 28.0, 27.85, 27.9, 27.95, 28.0, 27.85, 27.9, 27.95, 28.0, 27.9]
f_sq_c = [4.5, 3.4, 4.0, 3.5,
          4.5, 4.0, 3.5, 3.0, 2.5, 2.3, 2.2, 2.1, 3.8,
          4.0, 3.8, 3.2, 1.9, 1.2, 1.1, 1.0, 0.95, 0.88, 0.78, 0.55, 0.4, 0.38, 0.3, 0.28,
          0.24,
          4.9, 3.9, 3.4, 3.2, 2.7, 2.5, 2.3, 2.2, 1.25, 0.6, 0.42, 0.3, 0.17, 0.15]

LLOQ = 5

# ================= drawing =================
W, H = 709, 1036
fig = plt.figure(figsize=(W / 100, H / 100), dpi=100)


def add_ax(l, t, r, b):
    return fig.add_axes([l / W, 1 - b / H, (r - l) / W, (b - t) / H])


GRAY = '#8a8a8a'
BAND = '#c8c8c8'


def style(ax):
    for s in ['top', 'right']:
        ax.spines[s].set_visible(False)
    for s in ['left', 'bottom']:
        ax.spines[s].set_linewidth(1.0)
    ax.tick_params(direction='out', length=3.5, width=1.0, labelsize=6.5, pad=2)
    ax.patch.set_alpha(0)


def log_axis(axis, labels):
    axis.set_major_locator(FixedLocator(labels))
    axis.set_major_formatter(FixedFormatter([('%g' % v) for v in labels]))
    axis.set_minor_locator(NullLocator())


def scatter(ax, x, y, ms=4.8, marker='o'):
    ax.plot(x, y, linestyle='none', marker=marker, ms=ms, mfc='none', mec=GRAY, mew=0.75)


dec = [1, 10, 100, 1000]

# (a)
ax = add_ax(58, 10, 340, 293)
ax.set_xscale('log'); ax.set_yscale('log')
ax.set_xlim(1, 1000); ax.set_ylim(1, 1000)
ax.axhline(LLOQ, color='#a8a8a8', lw=0.7)
scatter(ax, a_ipred, a_obs)
ax.plot(a_line_x, a_line_y, color='k', lw=3, dashes=(3.2, 1.3))
log_axis(ax.xaxis, dec); log_axis(ax.yaxis, dec)
style(ax)
ax.set_xlabel('Individual predicted IVM conc. (ng/ml)', fontsize=10)
ax.set_ylabel('Observed IVM conc. (ng/ml)', fontsize=10)
ax.xaxis.set_label_coords(0.5, -25 / 283); ax.xaxis.label.set_va('center')
ax.yaxis.set_label_coords(-44 / 282, 0.5); ax.yaxis.label.set_va('center')

# (b)
ax = add_ax(413, 10, 697, 293)
ax.set_xscale('log'); ax.set_yscale('log')
ax.set_xlim(1, 1000); ax.set_ylim(1, 1000)
ax.axhline(LLOQ, color='#a8a8a8', lw=0.7)
scatter(ax, b_pred, b_obs)
ax.plot(b_line_x, b_line_y, color='k', lw=3, dashes=(3.2, 1.3))
log_axis(ax.xaxis, dec); log_axis(ax.yaxis, dec)
style(ax)
ax.set_xlabel('Population predicted IVM conc. (ng/ml)', fontsize=10)
ax.set_ylabel('Observed IVM conc. (ng/ml)', fontsize=10)
ax.xaxis.set_label_coords(0.5, -25 / 283); ax.xaxis.label.set_va('center')
ax.yaxis.set_label_coords(-44 / 284, 0.5); ax.yaxis.label.set_va('center')

# (c)
ax = add_ax(57, 358, 341, 642)
ax.set_xlim(-1.02, 28); ax.set_ylim(-6, 4)
scatter(ax, c_time, c_wres)
ax.axhline(0, color='k', lw=1.6, zorder=3)
ax.plot(c_trend_t, c_trend_w, color='k', lw=1.3, dashes=(2.2, 1.0), zorder=4)
ax.set_xticks([0, 4, 8, 12, 16, 20, 24, 28])
ax.set_yticks([-6, -4, -2, 0, 2, 4])
style(ax)
ax.set_xlabel('Time (days)', fontsize=10)
ax.set_ylabel('Weighted residual error', fontsize=10)
ax.xaxis.set_label_coords(0.5, -28 / 284); ax.xaxis.label.set_va('center')
ax.yaxis.set_label_coords(-36 / 284, 0.5); ax.yaxis.label.set_va('center')

# (d)
ax = add_ax(413, 358, 697, 642)
ax.set_xscale('log')
ax.set_xlim(1, 1000); ax.set_ylim(-6, 4)
scatter(ax, d_ipred, d_wres)
ax.axhline(0, color='k', lw=1.6, zorder=3)
ax.plot(d_trend_x, d_trend_w, color='k', lw=1.3, dashes=(2.2, 1.0), zorder=4)
log_axis(ax.xaxis, dec)
ax.set_yticks([-6, -4, -2, 0, 2, 4])
style(ax)
ax.set_xlabel('Individual predicted IVM conc. (ng/ml)', fontsize=10)
ax.set_ylabel('Weighted residual error', fontsize=10)
ax.xaxis.set_label_coords(0.5, -28 / 284); ax.xaxis.label.set_va('center')
ax.yaxis.set_label_coords(-36 / 284, 0.5); ax.yaxis.label.set_va('center')


def vpc(ax, p95, p95hi, p95lo, med, medhi, medlo, p5, p5hi, p5lo, ct, cc, st, sc):
    ax.set_yscale('log')
    ax.set_xlim(-1.07, 28); ax.set_ylim(0.1, 1000)
    for lo, hi in [(p95lo, p95hi), (medlo, medhi), (p5lo, p5hi)]:
        ax.fill_between(vpc_t, lo, hi, color=BAND, lw=0, zorder=1)
    ax.axhline(LLOQ, color='#a0a0a0', lw=0.7, zorder=2)
    scatter(ax, ct, cc, ms=3.6, marker='o')
    scatter(ax, st, sc, ms=3.6, marker='s')
    ax.plot(vpc_t, p95, color='k', lw=0.8, dashes=(2.0, 1.2), zorder=4)
    ax.plot(vpc_t, med, color='k', lw=0.9, zorder=4)
    ax.plot(vpc_t, p5, color='k', lw=0.8, dashes=(2.0, 1.2), zorder=4)
    ax.set_xticks([0, 4, 8, 12, 16, 20, 24, 28])
    log_axis(ax.yaxis, [0.1, 1, 10, 100, 1000])
    style(ax)
    ax.set_xlabel('Time (days)', fontsize=10)
    ax.set_ylabel('IVM conc. (ng/ml)', fontsize=10)
    ax.xaxis.set_label_coords(0.5, -24 / 282); ax.xaxis.label.set_va('center')
    ax.yaxis.set_label_coords(-33 / 284, 0.5); ax.yaxis.label.set_va('center')


ax = add_ax(52, 712, 336, 994)
vpc(ax, e_p95, e_p95_hi, e_p95_lo, e_med, e_med_hi, e_med_lo, e_p5, e_p5_hi, e_p5_lo,
    e_circ_t, e_circ_c, e_sq_t, e_sq_c)

ax = add_ax(408, 712, 691, 994)
vpc(ax, f_p95, f_p95_hi, f_p95_lo, f_med, f_med_hi, f_med_lo, f_p5, f_p5_hi, f_p5_lo,
    f_circ_t, f_circ_c, f_sq_t, f_sq_c)

# panel letters
for lab, x, y in [('(a)', 2, 14), ('(b)', 356, 14), ('(c)', 2, 345), ('(d)', 356, 345),
                  ('(e)', 2, 690), ('(f)', 357, 690)]:
    fig.text(x / W, 1 - y / H, lab, fontsize=7.5, fontweight='bold', ha='left', va='center')

fig.savefig('out.png', dpi=100)
